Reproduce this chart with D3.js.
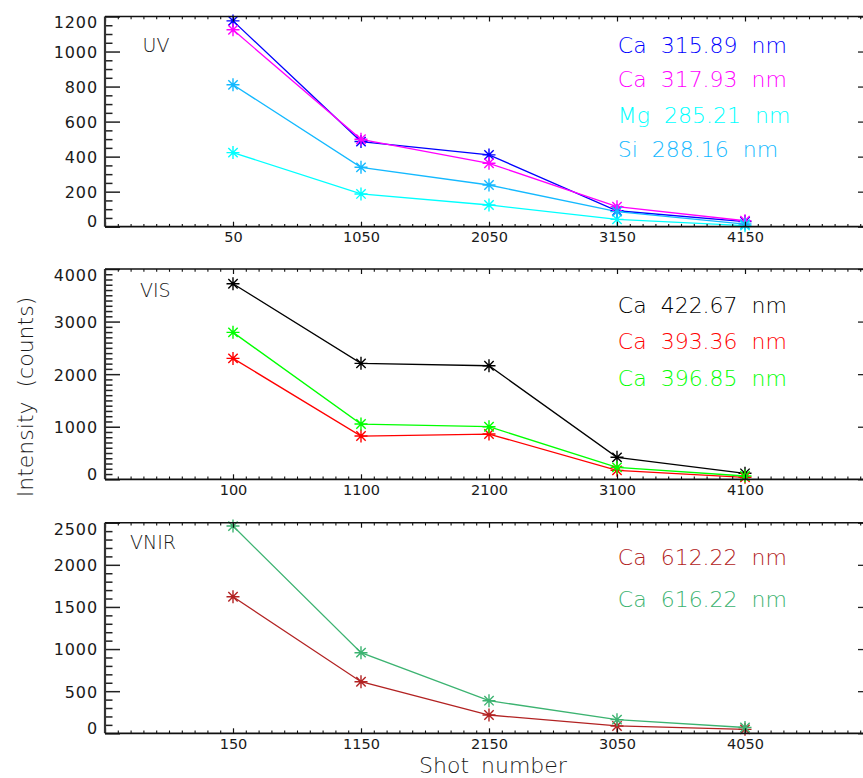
<!DOCTYPE html>
<html>
<head>
<meta charset="utf-8">
<script src="https://cdn.jsdelivr.net/npm/d3@7"></script>
<style>
  html, body { margin: 0; padding: 0; background: #fff; }
  svg { display: block; }
  text { font-family: "DejaVu Sans", sans-serif; fill: #1a1a1a; }
</style>
</head>
<body>
<svg id="chart" width="863" height="778"></svg>
<script>
// ---------------- DATA ----------------
const uvShotLabels   = ["50", "1050", "2050", "3150", "4150"];
const visShotLabels  = ["100", "1100", "2100", "3100", "4100"];
const vnirShotLabels = ["150", "1150", "2150", "3050", "4050"];

// UV panel
const uvCa31589 = [1175, 486, 410, 91, 29];
const uvCa31793 = [1124, 499, 362, 114, 34];
const uvMg28521 = [423, 187, 124, 42, 6];
const uvSi28816 = [810, 339, 238, 86, 15];

// VIS panel
const visCa42267 = [3720, 2205, 2160, 418, 114];
const visCa39336 = [2300, 823, 861, 170, 38];
const visCa39685 = [2795, 1051, 1000, 228, 63];

// VNIR panel
const vnirCa61222 = [1621, 612, 217, 87, 47];
const vnirCa61622 = [2460, 957, 387, 162, 69];

// y-axis tick definitions
const uvYMajor = [0, 200, 400, 600, 800, 1000, 1200];
const visYMajor = [0, 1000, 2000, 3000, 4000];
const vnirYMajor = [0, 500, 1000, 1500, 2000, 2500];

// ---------------- LAYOUT ----------------
const svg = d3.select("#chart");
const xLeft = 105, xRight = 873;
const x = d3.scaleLinear().domain([-1, 5]).range([xLeft, xRight]);

const panels = [
  { name: "UV", nameX: 142.5, nameDy: 35, top: 16.5, bottom: 226.7, ymax: 1200,
    major: uvYMajor, minorStep: 50, shots: uvShotLabels,
    legendY: [52.7, 87.3, 122.7, 157.3],
    series: [
      { label: "Ca 315.89 nm", color: "#0000ff", values: uvCa31589 },
      { label: "Ca 317.93 nm", color: "#ff00ff", values: uvCa31793 },
      { label: "Mg 285.21 nm", color: "#00ffff", values: uvMg28521 },
      { label: "Si 288.16 nm", color: "#14b9ff", values: uvSi28816 }
    ] },
  { name: "VIS", nameX: 140, nameDy: 27.7, top: 269, bottom: 479.3, ymax: 4000,
    major: visYMajor, minorStep: 100, shots: visShotLabels,
    legendY: [312.7, 349.3, 386],
    series: [
      { label: "Ca 422.67 nm", color: "#000000", values: visCa42267 },
      { label: "Ca 393.36 nm", color: "#ff0000", values: visCa39336 },
      { label: "Ca 396.85 nm", color: "#00ff00", values: visCa39685 }
    ] },
  { name: "VNIR", nameX: 130, nameDy: 25.8, top: 522.7, bottom: 733.3, ymax: 2500,
    major: vnirYMajor, minorStep: 100, shots: vnirShotLabels,
    legendY: [565, 606.7],
    series: [
      { label: "Ca 612.22 nm", color: "#b22222", values: vnirCa61222 },
      { label: "Ca 616.22 nm", color: "#3cb371", values: vnirCa61622 }
    ] }
];

const xMajor = d3.range(-1, 6);
const xMinor = d3.range(-10, 51).map(d => d / 10).filter(d => Math.abs(d - Math.round(d)) > 1e-6);

function asterisk(r) {
  const d = r * 0.72;
  return `M0,${-r}L0,${r}M${-r},0L${r},0M${-d},${-d}L${d},${d}M${-d},${d}L${d},${-d}`;
}

panels.forEach(p => {
  const y = d3.scaleLinear().domain([0, p.ymax]).range([p.bottom, p.top]);
  const g = svg.append("g");
  const minor = d3.range(0, p.ymax + 1e-9, p.minorStep).filter(v => !p.major.includes(v));

  // lines and markers
  const line = d3.line().x((d, i) => x(i)).y(d => y(d));
  const data = g.append("g");
  p.series.forEach(s => {
    data.append("path").datum(s.values)
      .attr("d", line).attr("fill", "none")
      .attr("stroke", s.color).attr("stroke-width", 1.3);
  });
  p.series.forEach(s => {
    data.selectAll(null).data(s.values).enter().append("path")
      .attr("transform", (d, i) => `translate(${x(i)},${y(d)})`)
      .attr("d", asterisk(6.5)).attr("fill", "none")
      .attr("stroke", s.color).attr("stroke-width", 1.4);
  });

  // left axis major
  const leftMaj = g.append("g").attr("transform", `translate(${xLeft},0)`)
    .call(d3.axisLeft(y).tickValues(p.major).tickSizeInner(-15).tickSizeOuter(0).tickPadding(7)
      .tickFormat(d3.format("d")));
  leftMaj.select(".domain").remove();
  leftMaj.selectAll(".tick line").attr("stroke", "#222").attr("stroke-width", 1.5);
  leftMaj.selectAll(".tick text")
    .attr("font-size", 16).attr("letter-spacing", 0.9)
    .attr("font-family", "DejaVu Sans").attr("fill", "#1a1a1a")
    .attr("y", d => d === p.ymax ? 6.3 : (d === 0 ? -5 : 0.8));
  // left axis minor
  const leftMin = g.append("g").attr("transform", `translate(${xLeft},0)`)
    .call(d3.axisLeft(y).tickValues(minor).tickSizeInner(-7.5).tickSizeOuter(0).tickFormat(""));
  leftMin.select(".domain").remove();
  leftMin.selectAll(".tick line").attr("stroke", "#222").attr("stroke-width", 1.5);

  // right axis (major only visible)
  const rightMaj = g.append("g").attr("transform", `translate(${xRight},0)`)
    .call(d3.axisRight(y).tickValues(p.major).tickSizeInner(-15).tickSizeOuter(0).tickFormat(""));
  rightMaj.select(".domain").remove();
  rightMaj.selectAll(".tick line").attr("stroke", "#222").attr("stroke-width", 1.3);

  // bottom axis
  const botMaj = g.append("g").attr("transform", `translate(0,${p.bottom})`)
    .call(d3.axisBottom(x).tickValues(xMajor).tickSizeInner(-5).tickSizeOuter(0).tickPadding(0)
      .tickFormat(d => (d >= 0 && d <= 4) ? p.shots[d] : ""));
  botMaj.select(".domain").remove();
  botMaj.selectAll(".tick line").attr("stroke", "#111").attr("stroke-width", 1.2);
  botMaj.selectAll(".tick text")
    .attr("font-size", 14.5).attr("font-family", "DejaVu Sans").attr("fill", "#1a1a1a")
    .attr("dy", null).attr("y", 15.5);
  const botMin = g.append("g").attr("transform", `translate(0,${p.bottom})`)
    .call(d3.axisBottom(x).tickValues(xMinor).tickSizeInner(-2.8).tickSizeOuter(0).tickFormat(""));
  botMin.select(".domain").remove();
  botMin.selectAll(".tick line").attr("stroke", "#111").attr("stroke-width", 1.1);

  // top axis
  const topMaj = g.append("g").attr("transform", `translate(0,${p.top})`)
    .call(d3.axisTop(x).tickValues(xMajor).tickSizeInner(-5).tickSizeOuter(0).tickFormat(""));
  topMaj.select(".domain").remove();
  topMaj.selectAll(".tick line").attr("stroke", "#111").attr("stroke-width", 1.2);
  const topMin = g.append("g").attr("transform", `translate(0,${p.top})`)
    .call(d3.axisTop(x).tickValues(xMinor).tickSizeInner(-2.8).tickSizeOuter(0).tickFormat(""));
  topMin.select(".domain").remove();
  topMin.selectAll(".tick line").attr("stroke", "#111").attr("stroke-width", 1.1);

  // box
  g.append("line").attr("x1", xLeft).attr("x2", xLeft).attr("y1", p.top).attr("y2", p.bottom)
    .attr("stroke", "#333").attr("stroke-width", 2.2);
  g.append("line").attr("x1", xRight).attr("x2", xRight).attr("y1", p.top).attr("y2", p.bottom)
    .attr("stroke", "#333").attr("stroke-width", 2);
  g.append("line").attr("x1", xLeft).attr("x2", xRight).attr("y1", p.bottom).attr("y2", p.bottom)
    .attr("stroke", "#111").attr("stroke-width", 1.8);
  g.append("line").attr("x1", xLeft).attr("x2", xRight).attr("y1", p.top).attr("y2", p.top)
    .attr("stroke", "#111").attr("stroke-width", 1.6);

  // panel name
  g.append("text").attr("x", p.nameX).attr("y", p.top + p.nameDy)
    .attr("font-size", 19).attr("font-weight", 300).text(p.name);

  // legend
  p.series.forEach((s, i) => {
    g.append("text").attr("x", 617.8).attr("y", p.legendY[i])
      .attr("font-size", 22).attr("font-weight", 300).attr("word-spacing", 7)
      .attr("fill", s.color).style("fill", s.color).text(s.label);
  });
});

// axis titles
svg.append("text")
  .attr("transform", "translate(33,397) rotate(-90)")
  .attr("text-anchor", "middle").attr("font-size", 22).attr("font-weight", 300)
  .attr("word-spacing", 7).text("Intensity (counts)");
svg.append("text")
  .attr("x", 493).attr("y", 773).attr("text-anchor", "middle")
  .attr("font-size", 22).attr("font-weight", 300).attr("word-spacing", 5)
  .text("Shot number");
</script>
</body>
</html>
